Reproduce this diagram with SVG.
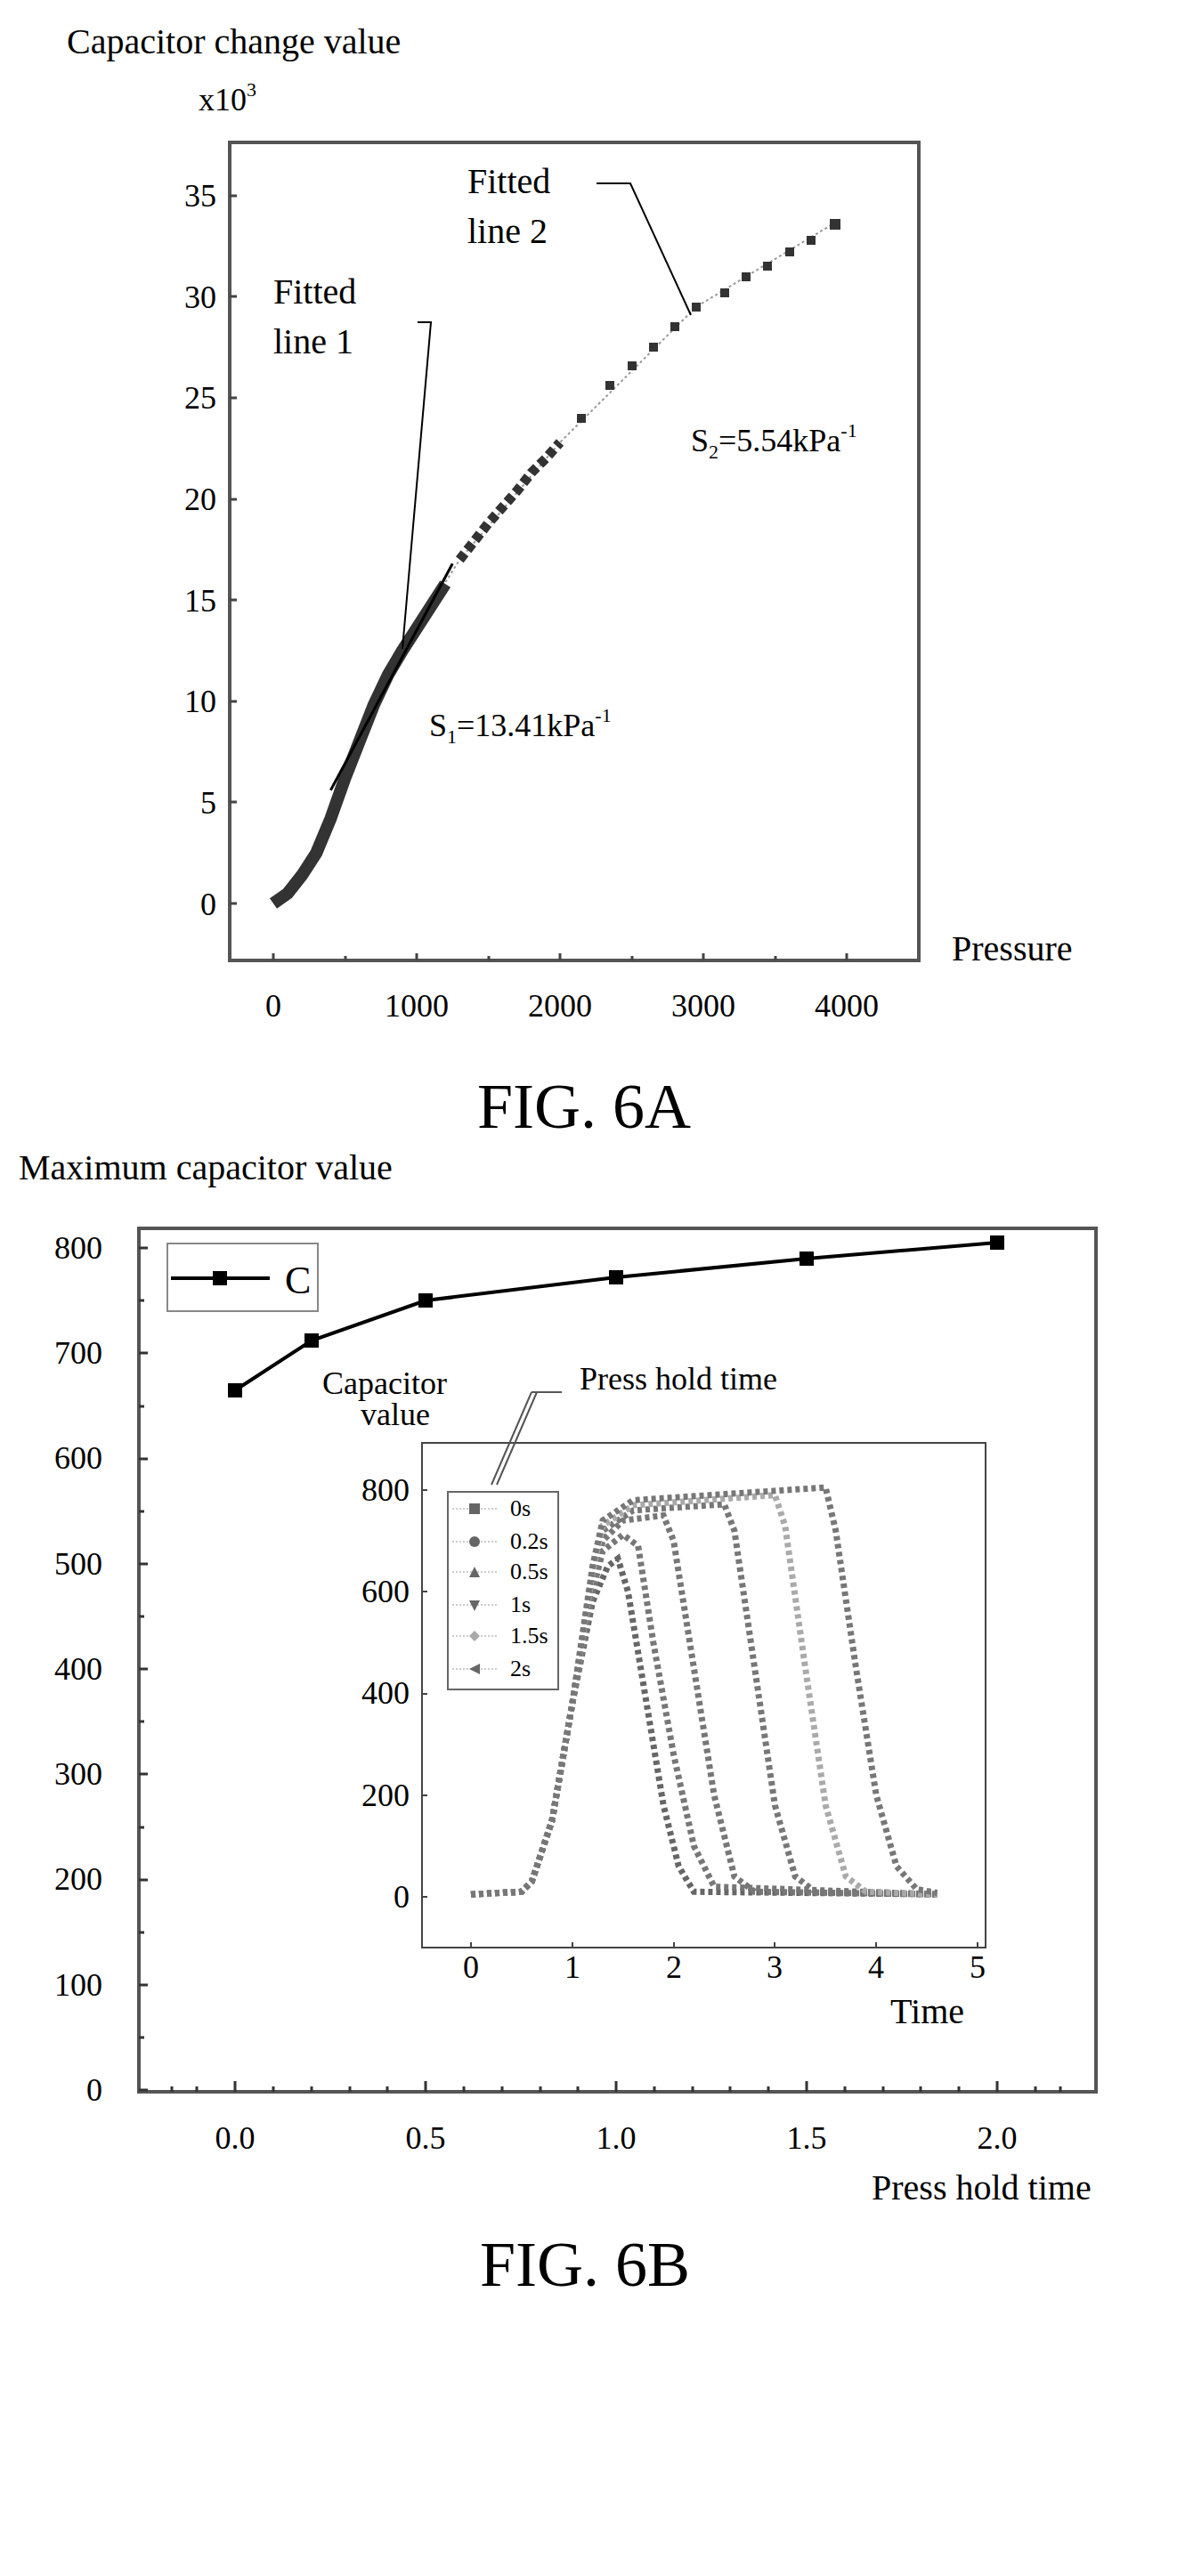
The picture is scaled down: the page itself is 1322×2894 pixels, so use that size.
<svg xmlns="http://www.w3.org/2000/svg" width="1322" height="2894" viewBox="0 0 1322 2894">
<style>
text{font-family:"Liberation Serif",serif;fill:#000}
.t{font-size:40px}
.s{font-size:36px}
.fig{font-size:72px}
.box{fill:none;stroke:#555;stroke-width:4}
.ld{fill:none;stroke:#000;stroke-width:2}
.ns{vector-effect:non-scaling-stroke;fill:none}
</style>
<rect width="1322" height="2894" fill="#fff"/>
<g id="fig6a">
<text class="t" x="75" y="60">Capacitor change value</text>
<text class="s" x="223" y="124">x10<tspan font-size="22" dy="-16">3</tspan></text>
<rect class="box" x="258" y="160" width="774" height="919"/>
<g class="s" text-anchor="end">
<text x="243" y="1028">0</text><text x="243" y="914">5</text><text x="243" y="800">10</text><text x="243" y="687">15</text><text x="243" y="573">20</text><text x="243" y="459">25</text><text x="243" y="346">30</text><text x="243" y="232">35</text>
</g>
<g class="s" text-anchor="middle">
<text x="307" y="1142">0</text><text x="468" y="1142">1000</text><text x="629" y="1142">2000</text><text x="790" y="1142">3000</text><text x="951" y="1142">4000</text>
</g>
<g stroke="#444" stroke-width="3">
<path d="M258 1015h8M258 901h8M258 788h8M258 674h8M258 561h8M258 447h8M258 333h8M258 220h8M307 1079v-8M468 1079v-8M629 1079v-8M790 1079v-8M951 1079v-8M388 1079v-5M549 1079v-5M710 1079v-5M871 1079v-5"/>
</g>
<text class="t" x="1069" y="1079">Pressure</text>
<g transform="translate(307,1015) scale(0.161,-22.72)">
<polyline class="ns" style="stroke:#999;stroke-width:2;stroke-dasharray:3 3" points="600,8 900,12.5 1300,17 2000,22.8 2950,29.5 3950,33.8"/>
<polyline class="ns" style="stroke:#333;stroke-width:14" points="0,0 100,0.5 200,1.4 300,2.5 400,4.2 500,6.2 600,8 700,9.8 800,11.3 900,12.5 1000,13.6 1100,14.7 1200,15.8"/>
<line class="ns" style="stroke:#000;stroke-width:3" x1="400" y1="5.6" x2="1250" y2="16.8"/>
<polyline class="ns" style="stroke:#333;stroke-width:11;stroke-dasharray:9 5" points="1300,17 1400,17.9 1500,18.8 1600,19.6 1700,20.4 1800,21.3 1900,22 2000,22.8"/>
</g>
<g fill="#333">
<rect x="648" y="465" width="10" height="10"/><rect x="680" y="428" width="10" height="10"/><rect x="705" y="406" width="10" height="10"/><rect x="729" y="385" width="10" height="10"/><rect x="753" y="362" width="10" height="10"/><rect x="777" y="340" width="10" height="10"/><rect x="809" y="324" width="10" height="10"/><rect x="833" y="306" width="10" height="10"/><rect x="857" y="294" width="10" height="10"/><rect x="882" y="278" width="10" height="10"/><rect x="906" y="265" width="10" height="10"/><rect x="932" y="246" width="12" height="12"/>
</g>
<text class="t" x="525" y="217">Fitted</text><text class="t" x="525" y="273">line 2</text>
<path class="ld" d="M670 206h38L776 354"/>
<text class="t" x="307" y="341">Fitted</text><text class="t" x="307" y="397">line 1</text>
<path class="ld" d="M469 362h15L452 729"/>
<text class="s" x="776" y="507">S<tspan font-size="22" dy="8">2</tspan><tspan dy="-8">=5.54kPa</tspan><tspan font-size="22" dy="-16">-1</tspan></text>
<text class="s" x="482" y="827">S<tspan font-size="22" dy="8">1</tspan><tspan dy="-8">=13.41kPa</tspan><tspan font-size="22" dy="-16">-1</tspan></text>
<text class="fig" x="536" y="1267">FIG. 6A</text>
</g>
<g id="fig6b">
<text class="t" x="21" y="1325">Maximum capacitor value</text>
<rect class="box" x="156" y="1380" width="1075" height="970"/>
<g class="s" text-anchor="end">
<text x="115" y="2360">0</text><text x="115" y="2242">100</text><text x="115" y="2123">200</text><text x="115" y="2005">300</text><text x="115" y="1887">400</text><text x="115" y="1769">500</text><text x="115" y="1650">600</text><text x="115" y="1532">700</text><text x="115" y="1414">800</text>
</g>
<g class="s" text-anchor="middle">
<text x="264" y="2414">0.0</text><text x="478" y="2414">0.5</text><text x="692" y="2414">1.0</text><text x="906" y="2414">1.5</text><text x="1120" y="2414">2.0</text>
</g>
<g stroke="#333" stroke-width="3">
<path d="M156 2348h10M156 2230h10M156 2112h10M156 1993h10M156 1875h10M156 1757h10M156 1639h10M156 1520h10M156 1402h10M264 2350v-12M478 2350v-12M692 2350v-12M906 2350v-12M1120 2350v-12M193 2350v-6M221 2350v-6M307 2350v-6M350 2350v-6M393 2350v-6M435 2350v-6M521 2350v-6M564 2350v-6M607 2350v-6M649 2350v-6M735 2350v-6M778 2350v-6M820 2350v-6M863 2350v-6M949 2350v-6M992 2350v-6M1034 2350v-6M1077 2350v-6M1163 2350v-6M1191 2350v-6M156 2289h6M156 2171h6M156 2053h6M156 1934h6M156 1816h6M156 1698h6M156 1580h6M156 1461h6"/>
</g>
<text class="t" x="979" y="2471">Press hold time</text>
<polyline fill="none" stroke="#000" stroke-width="4" points="264,1562 350,1506 478,1461 692,1435 906,1414 1120,1396"/>
<g fill="#000">
<rect x="256" y="1554" width="16" height="16"/><rect x="342" y="1498" width="16" height="16"/><rect x="470" y="1453" width="16" height="16"/><rect x="684" y="1427" width="16" height="16"/><rect x="898" y="1406" width="16" height="16"/><rect x="1112" y="1388" width="16" height="16"/>
</g>
<rect x="188" y="1397" width="169" height="76" fill="none" stroke="#888" stroke-width="2"/>
<line x1="192" y1="1436" x2="303" y2="1436" stroke="#000" stroke-width="4"/>
<rect x="239" y="1428" width="16" height="16" fill="#000"/>
<text x="320" y="1453" font-family="Liberation Sans,sans-serif" font-size="44">C</text>
<g id="inset">
<rect x="474" y="1621" width="633" height="567" fill="none" stroke="#444" stroke-width="2"/>
<g class="s" text-anchor="end">
<text x="460" y="2143">0</text><text x="460" y="2029">200</text><text x="460" y="1914">400</text><text x="460" y="1800">600</text><text x="460" y="1686">800</text>
</g>
<g class="s" text-anchor="middle">
<text x="529" y="2222">0</text><text x="643" y="2222">1</text><text x="757" y="2222">2</text><text x="870" y="2222">3</text><text x="984" y="2222">4</text><text x="1098" y="2222">5</text>
</g>
<g stroke="#444" stroke-width="2">
<path d="M474 2131h6M474 2017h6M474 1903h6M474 1788h6M474 1674h6M529 2188v-6M643 2188v-6M757 2188v-6M870 2188v-6M984 2188v-6M1098 2188v-6"/>
</g>
<text class="t" x="1000" y="2273">Time</text>
<text class="s" x="362" y="1566">Capacitor</text><text class="s" x="405" y="1601">value</text>
<text class="s" x="651" y="1561">Press hold time</text>
<path d="M597 1564L552 1668M603 1564L558 1668M597 1564h34" fill="none" stroke="#555" stroke-width="2"/>
<g transform="translate(529,2131) scale(113.8,-0.5713)">
<polyline class="ns" style="stroke:#666;stroke-width:7;stroke-dasharray:5 4" points="0,5 0.5,10 0.6,30 0.8,150 1.0,380 1.2,580 1.35,650 1.45,665 1.55,600 1.7,420 1.9,180 2.05,60 2.2,10 4.6,5"/>
<polyline class="ns" style="stroke:#777;stroke-width:7;stroke-dasharray:5 4" points="0,5 0.5,10 0.6,30 0.8,150 1.0,380 1.2,600 1.3,680 1.5,712 1.65,690 1.8,500 2.0,280 2.2,100 2.4,20 4.6,5"/>
<polyline class="ns" style="stroke:#777;stroke-width:7;stroke-dasharray:5 4" points="0,5 0.5,10 0.6,30 0.8,150 1.0,380 1.2,620 1.3,700 1.5,740 1.9,750 2.0,700 2.2,450 2.4,200 2.6,40 2.8,10 4.6,5"/>
<polyline class="ns" style="stroke:#777;stroke-width:7;stroke-dasharray:5 4" points="0,5 0.5,10 0.6,30 0.8,150 1.0,380 1.2,630 1.3,720 1.6,760 2.5,772 2.6,720 2.8,450 3.0,180 3.2,40 3.4,10 4.6,5"/>
<polyline class="ns" style="stroke:#aaa;stroke-width:7;stroke-dasharray:5 4" points="0,5 0.5,10 0.6,30 0.8,150 1.0,380 1.2,640 1.3,730 1.6,770 3.0,790 3.1,730 3.3,450 3.5,180 3.7,40 3.9,10 4.6,5"/>
<polyline class="ns" style="stroke:#777;stroke-width:7;stroke-dasharray:5 4" points="0,5 0.5,10 0.6,30 0.8,150 1.0,380 1.2,650 1.3,740 1.6,780 3.5,805 3.6,720 3.8,450 4.0,200 4.2,60 4.4,15 4.6,8"/>
</g>
<rect x="503" y="1676" width="124" height="222" fill="#fff" stroke="#666" stroke-width="2"/>
<g stroke="#999" stroke-width="1" stroke-dasharray="2 2"><path d="M508 1695h50M508 1732h50M508 1766h50M508 1803h50M508 1838h50M508 1875h50"/></g>
<g fill="#666"><rect x="527" y="1689" width="12" height="12"/><circle cx="533" cy="1732" r="6"/><path d="M527 1772l6-12 6 12z"/><path d="M527 1798l6 12 6-12z"/><path d="M533 1832l6 6-6 6-6-6z" fill="#aaa"/><path d="M527 1875l12-6v12z"/></g>
<g font-size="26">
<text x="573" y="1703">0s</text><text x="573" y="1740">0.2s</text><text x="573" y="1774">0.5s</text><text x="573" y="1811">1s</text><text x="573" y="1846">1.5s</text><text x="573" y="1883">2s</text>
</g>
</g>
<text class="fig" x="539" y="2568">FIG. 6B</text>
</g>
</svg>
